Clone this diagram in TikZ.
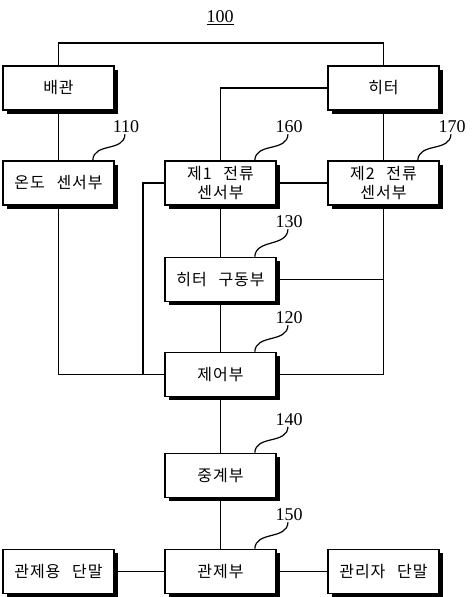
\documentclass[tikz,border=0pt]{standalone}
\usepackage{fontspec}
\setmainfont{Liberation Serif}
\newfontfamily\kr[LetterSpace=6,WordSpace=2.6]{Noto Sans CJK KR}
\usetikzlibrary{shadows}
\begin{document}
\begin{tikzpicture}[x=1pt,y=-1pt,
  box/.style={draw, line width=1.6pt, fill=white, minimum width=111pt, minimum height=44pt,
    inner sep=0pt, align=center, font=\kr\fontsize{16}{18.5}\selectfont,
    general shadow={fill=black, shadow xshift=3.5pt, shadow yshift=-3.5pt}},
  wire/.style={line width=1.4pt},
  ref/.style={font=\fontsize{18}{18}\selectfont, inner sep=1pt},
  leader/.style={line width=1.2pt}]
\useasboundingbox (0,0) rectangle (475,597);
% title
\node[ref] (t100) at (220,18) {\underline{100}};
% boxes
\node[box] (bg)   at (58.5,88)    {배관};
\node[box] (ht)   at (383.5,88)   {히터};
\node[box] (temp) at (58.5,183)   {온도 센서부};
\node[box] (c1)   at (220.5,183)  {제1 전류\\센서부};
\node[box] (c2)   at (383.5,183)  {제2 전류\\센서부};
\node[box] (drv)  at (220.5,279.5){히터 구동부};
\node[box] (ctrl) at (220.5,374.5){제어부};
\node[box] (rel)  at (220.5,475.5){중계부};
\node[box] (mon)  at (220.5,571.5){관제부};
\node[box] (t1)   at (58.5,571.5) {관제용 단말};
\node[box] (t2)   at (383.5,571.5){관리자 단말};
% junction coordinates
\coordinate (top) at (220,43);
\coordinate (j1) at (143,374.5);
% wires
\draw[wire] (bg.north) |- (top) -| (ht.north);
\draw[wire] (ht.west) -| (c1.north);
\draw[wire] (ht.south) -- (c2.north);
\draw[wire] (bg.south) -- (temp.north);
\draw[wire] (c1.east) -- (c2.west);
\draw[wire] (c1.west) -| (j1);
\draw[wire] (temp.south) |- (ctrl.west);
\draw[wire] (c1.south) -- (drv.north);
\draw[wire] (c2.south) |- (ctrl.east);
\draw[wire] (drv.east) -- (drv.east -| c2.south);
\draw[wire] (drv.south) -- (ctrl.north);
\draw[wire] (ctrl.south) -- (rel.north);
\draw[wire] (rel.south) -- (mon.north);
\draw[wire] (mon.west) -- (t1.east);
\draw[wire] (mon.east) -- (t2.west);
% reference labels
\node[ref] (l110) at (126,127) {110};
\node[ref] (l160) at (289,127) {160};
\node[ref] (l170) at (452,127) {170};
\node[ref] (l130) at (289,222) {130};
\node[ref] (l120) at (289,318) {120};
\node[ref] (l140) at (289,419.5) {140};
\node[ref] (l150) at (289,515) {150};
% leaders
\foreach \l/\b in {l110/temp, l160/c1, l170/c2, l130/drv, l120/ctrl, l140/rel, l150/mon}{
  \draw[leader] ([xshift=-1pt]\l.south) .. controls +(-1,18) and +(1,-18) .. ([xshift=-22pt]\b.north east);
}
\end{tikzpicture}
\end{document}
